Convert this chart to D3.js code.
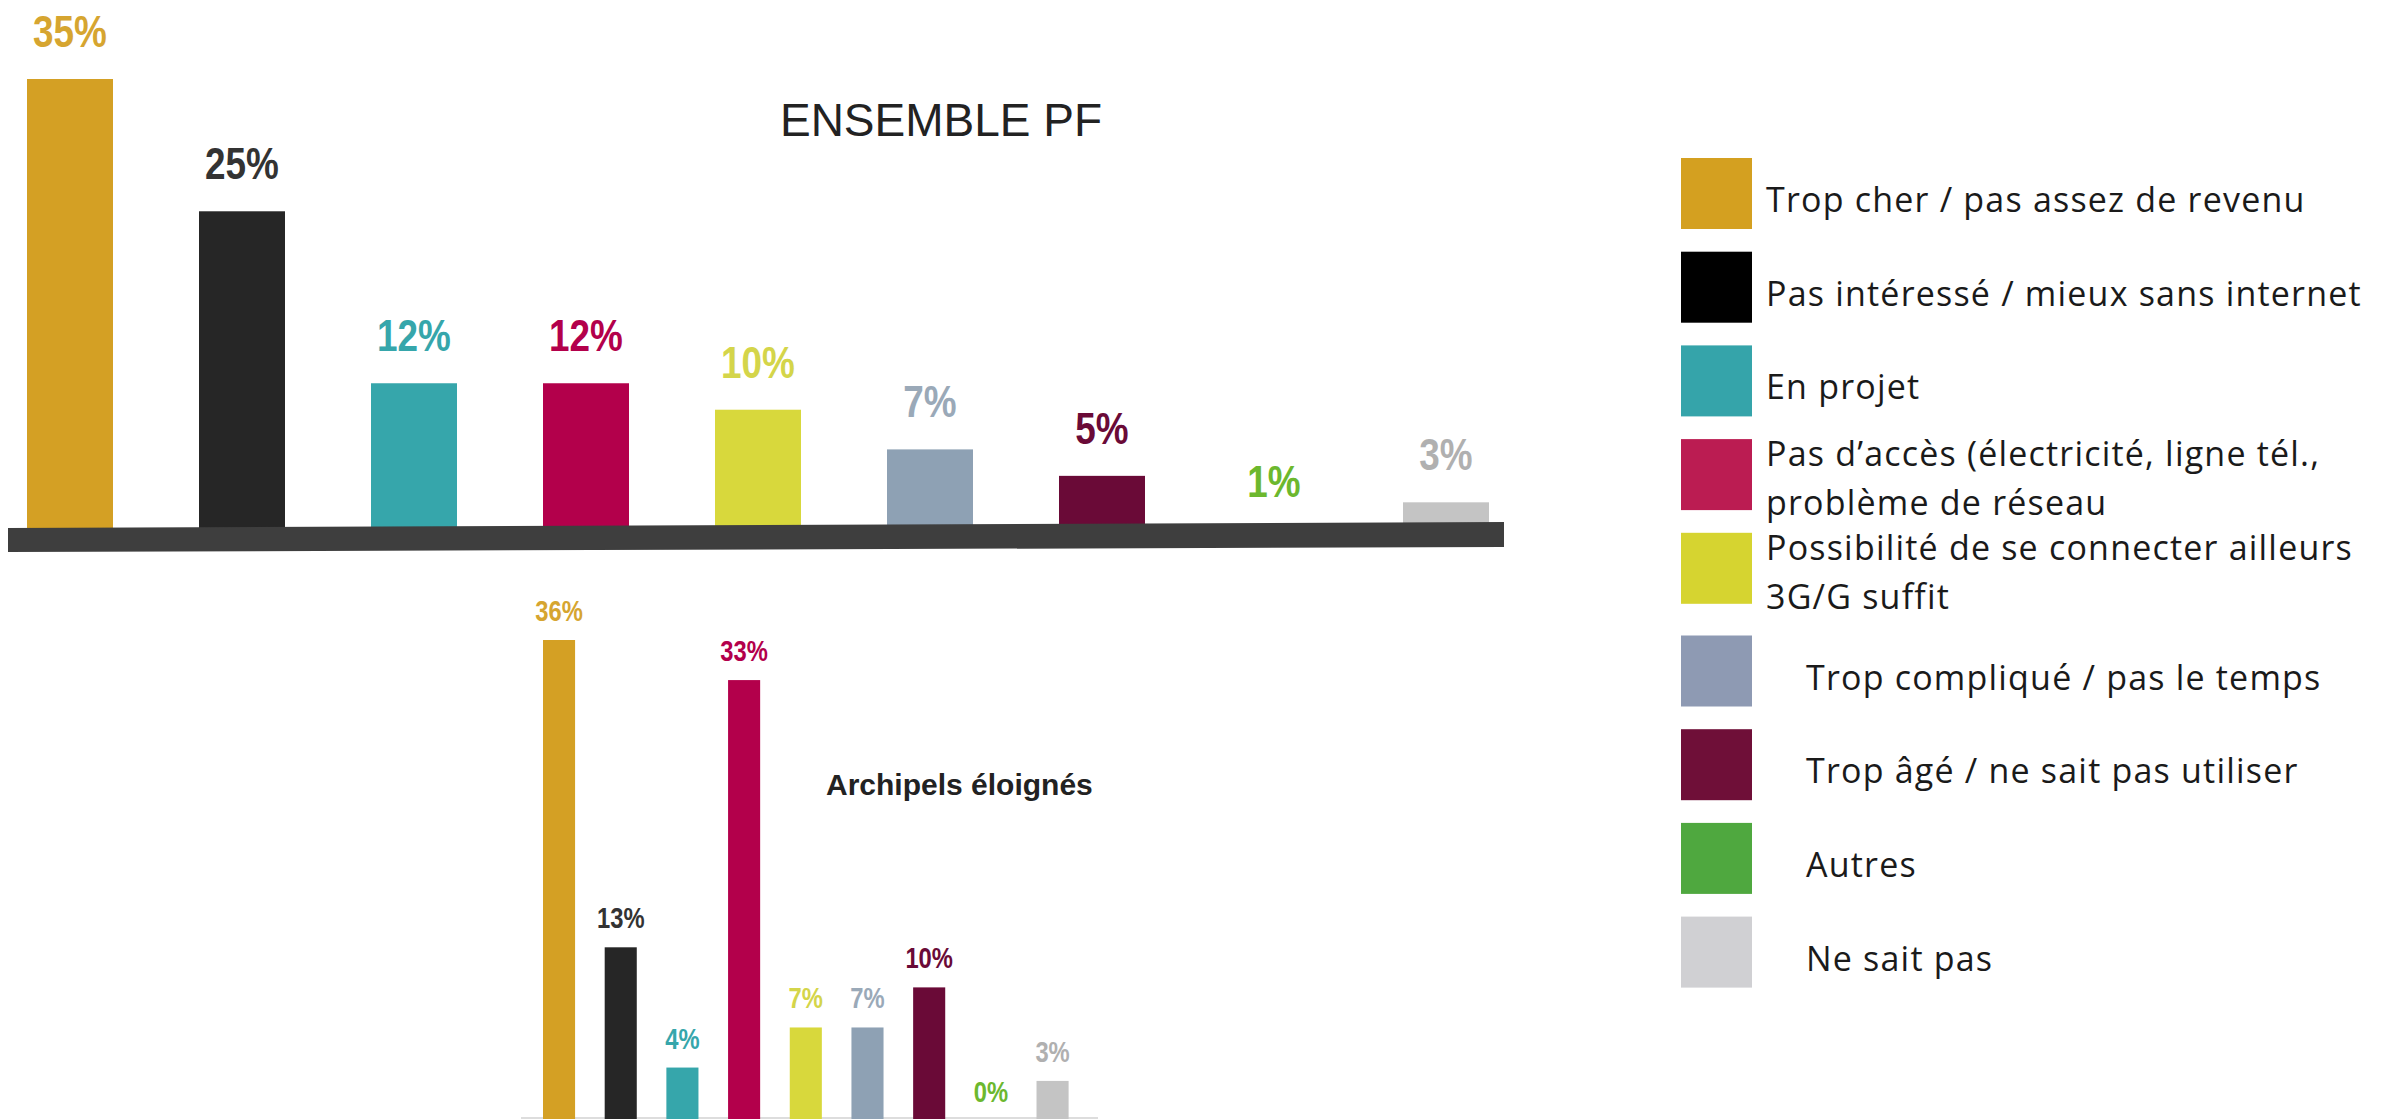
<!DOCTYPE html>
<html>
<head>
<meta charset="utf-8">
<script src="https://cdn.jsdelivr.net/npm/d3@7"></script>
<style>
  html, body { margin: 0; padding: 0; background: #ffffff; }
  svg { display: block; }
</style>
</head>
<body>
<script>
// ---------------- DATA ----------------
const categories = [
  "Trop cher / pas assez de revenu",
  "Pas intéressé / mieux sans internet",
  "En projet",
  "Pas d’accès (électricité, ligne tél.,\nproblème de réseau",
  "Possibilité de se connecter ailleurs\n3G/G suffit",
  "Trop compliqué / pas le temps",
  "Trop âgé / ne sait pas utiliser",
  "Autres",
  "Ne sait pas"
];
const ensembleValues = [35, 25, 12, 12, 10, 7, 5, 1, 3];
const archipelsValues = [36, 13, 4, 33, 7, 7, 10, 0, 3];
const ensembleTitle = "ENSEMBLE PF";
const archipelsTitle = "Archipels éloignés";

const barColors    = ["#d4a024", "#262626", "#36a6ab", "#b3004b", "#d8d83c", "#8ea1b4", "#6a0a37", "#5cb030", "#c4c4c4"];
const labelColors  = ["#d6a530", "#333333", "#36a6ab", "#b3004b", "#d4d54a", "#9aa9b8", "#6a0a37", "#6cb82e", "#b0b0b0"];
const legendColors = ["#d4a020", "#000000", "#35a4aa", "#bb1c52", "#d6d430", "#8e9ab3", "#6f0f38", "#4fa83f", "#d0d0d3"];

// ---------------- SETUP ----------------
const W = 2396, H = 1119;
const svg = d3.select("body").append("svg").attr("width", W).attr("height", H);

const fmt = v => v + "%";
const narrow = 0.82;

// ---------------- TOP CHART ----------------
const xTop = d3.scaleBand().domain(d3.range(categories.length)).range([27, 1489]).paddingInner(0.5).paddingOuter(0);
const yTop = d3.scaleLinear().domain([0, 35]).range([542, 79]);

const gTop = svg.append("g");
gTop.selectAll("rect.bar").data(ensembleValues).join("rect")
  .attr("class", "bar")
  .attr("x", (d, i) => xTop(i))
  .attr("width", xTop.bandwidth())
  .attr("y", d => yTop(d))
  .attr("height", d => yTop(0) - yTop(d))
  .attr("fill", (d, i) => barColors[i]);

// dark base slab (slightly tilted)
const bx0 = xTop.range()[0] - 19, bx1 = xTop.range()[1] + 15;
gTop.append("polygon")
  .attr("points", [[bx0, 528], [bx1, 522], [bx1, 547], [bx0, 552]].map(p => p.join(",")).join(" "))
  .attr("fill", "#3e3e3e");

gTop.selectAll("text.lbl").data(ensembleValues).join("text")
  .attr("class", "lbl")
  .attr("transform", (d, i) => `translate(${xTop(i) + xTop.bandwidth() / 2},${yTop(d) - 32}) scale(${narrow},1)`)
  .attr("text-anchor", "middle")
  .attr("font-family", "'Liberation Sans', Arial, sans-serif")
  .attr("font-weight", "bold")
  .attr("font-size", 45)
  .attr("fill", (d, i) => labelColors[i])
  .text(fmt);

svg.append("text")
  .attr("x", 941).attr("y", 136)
  .attr("text-anchor", "middle")
  .attr("font-family", "'Liberation Sans', Arial, sans-serif")
  .attr("font-size", 46)
  .attr("fill", "#222")
  .text(ensembleTitle);

// ---------------- BOTTOM CHART ----------------
const xBot = d3.scaleBand().domain(d3.range(categories.length)).range([543, 1068.6]).paddingInner(0.48).paddingOuter(0);
const yBot = d3.scaleLinear().domain([0, 36]).range([1121, 640]);

const gBot = svg.append("g");
gBot.append("line")
  .attr("x1", 521).attr("x2", 1098).attr("y1", 1118).attr("y2", 1118)
  .attr("stroke", "#dddddd").attr("stroke-width", 2);

gBot.selectAll("rect.bar").data(archipelsValues).join("rect")
  .attr("class", "bar")
  .attr("x", (d, i) => xBot(i))
  .attr("width", xBot.bandwidth())
  .attr("y", d => yBot(d))
  .attr("height", d => yBot(0) - yBot(d))
  .attr("fill", (d, i) => barColors[i]);

gBot.selectAll("text.lbl").data(archipelsValues).join("text")
  .attr("class", "lbl")
  .attr("transform", (d, i) => `translate(${xBot(i) + xBot.bandwidth() / 2},${yBot(d) - 19}) scale(${narrow},1)`)
  .attr("text-anchor", "middle")
  .attr("font-family", "'Liberation Sans', Arial, sans-serif")
  .attr("font-weight", "bold")
  .attr("font-size", 29)
  .attr("fill", (d, i) => labelColors[i])
  .text(fmt);

svg.append("text")
  .attr("x", 826).attr("y", 795)
  .attr("font-family", "'Liberation Sans', Arial, sans-serif")
  .attr("font-weight", "bold")
  .attr("font-size", 30)
  .attr("fill", "#222")
  .text(archipelsTitle);

// ---------------- LEGEND ----------------
const legend = svg.append("g");
const rowTop = i => 158 + i * 93.7 + (i >= 5 ? 9 : 0);
const items = legend.selectAll("g.item").data(categories).join("g")
  .attr("class", "item")
  .attr("transform", (d, i) => `translate(1681,${rowTop(i)})`);

items.append("rect")
  .attr("width", 71).attr("height", 71)
  .attr("fill", (d, i) => legendColors[i]);

items.each(function (d, i) {
  const lines = d.split("\n");
  const t = d3.select(this).append("text")
    .attr("font-family", "'Open Sans', 'Noto Sans', sans-serif")
    .attr("font-size", 34)
    .attr("letter-spacing", 1.2)
    .attr("fill", "#1a1a1a");
  const tx = i >= 5 ? 125 : 85;
  if (lines.length === 1) {
    t.append("tspan").attr("x", tx).attr("y", 54).text(lines[0]);
  } else {
    t.append("tspan").attr("x", tx).attr("y", 27).text(lines[0]);
    t.append("tspan").attr("x", tx).attr("y", 76).text(lines[1]);
  }
});
</script>
</body>
</html>
